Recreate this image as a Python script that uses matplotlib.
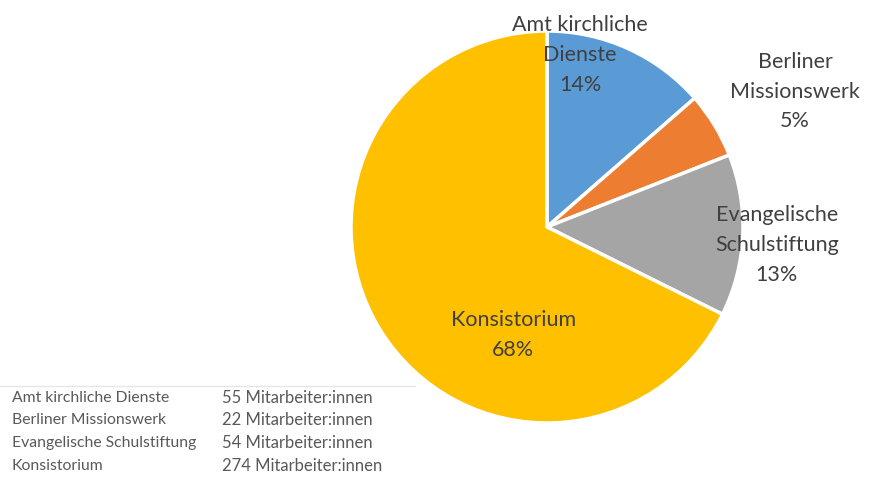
import matplotlib
matplotlib.use("Agg")
import matplotlib.pyplot as plt
from matplotlib.lines import Line2D

categories = ["Amt kirchliche Dienste", "Berliner Missionswerk",
              "Evangelische Schulstiftung", "Konsistorium"]
label_names = ["Amt kirchliche\nDienste", "Berliner\nMissionswerk",
               "Evangelische\nSchulstiftung", "Konsistorium"]
values = [55, 22, 54, 274]
table_suffix = "Mitarbeiter:innen"

colors = ["#5B9BD5", "#ED7D31", "#A5A5A5", "#FFC000"]
label_pos = [(0.168, 0.878), (1.265, 0.69), (1.173, -0.092), (-0.173, -0.551)]

plt.rcParams['font.family'] = ['Lato', 'DejaVu Sans']

W, H = 870, 478
fig = plt.figure(figsize=(W / 100, H / 100), dpi=100)
fig.patch.set_facecolor("white")

cx, cy, r = 547, 227, 196
ax = fig.add_axes([(cx - r) / W, (H - cy - r) / H, 2 * r / W, 2 * r / H])
ax.pie(values, colors=colors, startangle=90, counterclock=False, radius=1,
       wedgeprops=dict(edgecolor="white", linewidth=2.5))
ax.set_xlim(-1, 1)
ax.set_ylim(-1, 1)
ax.set_aspect("equal")
ax.axis("off")

total = sum(values)
for name, v, (x, y) in zip(label_names, values, label_pos):
    pct = round(100 * v / total)
    ax.text(x, y, f"{name}\n{pct}%", ha="center", va="center", fontsize=15.5,
            color="#404040", linespacing=1.6, clip_on=False)

# table at bottom left
fig.add_artist(Line2D([0 / W, 415 / W], [1 - 386 / H, 1 - 386 / H],
                      color="#e6e6e6", linewidth=1))
row_y = [398, 420, 443, 466]
for cat, v, yy in zip(categories, values, row_y):
    fig.text(12 / W, 1 - yy / H, cat, ha="left", va="center",
             fontsize=11.3, color="#595959")
    fig.text(222 / W, 1 - yy / H, f"{v} {table_suffix}", ha="left",
             va="center", fontsize=12, color="#595959")

fig.savefig("out.png", dpi=100, facecolor="white")
